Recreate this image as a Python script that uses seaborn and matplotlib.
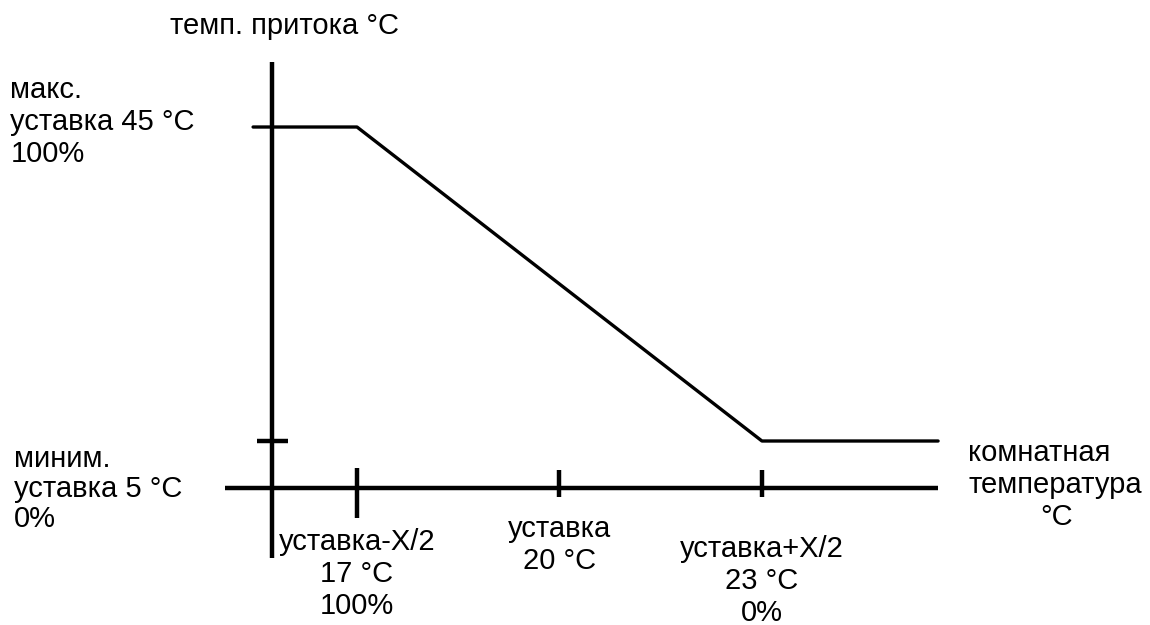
import matplotlib
matplotlib.use("Agg")
import matplotlib.pyplot as plt
import seaborn as sns
import pandas as pd

# room temperature setpoints on the horizontal axis (°C)
room_temps = [17, 20, 23]
room_labels = ["уставка-X/2\n17 \u00b0C\n100%", "уставка\n20 \u00b0C", "уставка+X/2\n23 \u00b0C\n0%"]

# supply temperature limits on the vertical axis (°C)
supply_max = 45
supply_min = 5
supply_labels = ["макс.\nуставка 45 \u00b0C\n100%", "миним.\nуставка 5 \u00b0C\n0%"]

# schematic extents of the drawing (room °C / supply °C)
x_axis_left, x_axis_right = 15.04, 25.61
y_axis_x = 15.74
y_axis_bottom, y_axis_top = -9.9, 53.28
x_axis_y = -1.0

# characteristic: flat at max, falls linearly, flat at min
curve = pd.DataFrame({
    "room": [15.46, room_temps[0], room_temps[2], x_axis_right],
    "supply": [supply_max, supply_max, supply_min, supply_min],
})

sns.set_style("white")
plt.rcParams['font.family'] = ['Liberation Sans', 'DejaVu Sans']
plt.rcParams['text.color'] = 'black'

fig = plt.figure(figsize=(11.5, 6.25), dpi=100)
ax = fig.add_axes([0, 0, 1, 1])
ax.set_xlim(11.71, 28.75)
ax.set_ylim(-18.44, 61.18)
ax.axis('off')

axis_kw = dict(color='black', lw=3.2, solid_capstyle='butt')
# axes
ax.plot([y_axis_x, y_axis_x], [y_axis_bottom, y_axis_top], **axis_kw)
ax.plot([x_axis_left, x_axis_right], [x_axis_y, x_axis_y], **axis_kw)

# ticks on the room temperature axis
for t in room_temps:
    lo = -4.81 if t == room_temps[0] else -2.13
    hi = 1.56 if t == room_temps[0] else 1.31
    ax.plot([t, t], [lo, hi], **axis_kw)

# min tick on supply axis
ax.plot([15.52, 15.98], [supply_min, supply_min], **axis_kw)

sns.lineplot(data=curve, x="room", y="supply", ax=ax, color='black', lw=2.4,
             sort=False, estimator=None)
ax.set_xlabel('')
ax.set_ylabel('')

fs = 21
ls = 1.18
tx = ax.get_xaxis_transform()
tops = [0.155, 0.176, 0.144]
for t, lab, top in zip(room_temps, room_labels, tops):
    ax.text(t, top, lab, transform=tx, ha='center', va='top', fontsize=fs,
            multialignment='center', linespacing=ls)

ax.text(0.009, 0.878, supply_labels[0], transform=ax.transAxes, ha='left',
        va='top', fontsize=fs, linespacing=ls)
ax.text(0.012, 0.288, supply_labels[1], transform=ax.transAxes, ha='left',
        va='top', fontsize=fs, linespacing=1.1)

ax.text(0.247, 0.981, "темп. притока \u00b0C", transform=ax.transAxes,
        ha='center', va='top', fontsize=fs)
ax.text(0.842, 0.298, "комнатная\nтемпература", transform=ax.transAxes,
        ha='left', va='top', fontsize=fs, linespacing=ls)
ax.text(0.919, 0.195, "\u00b0C", transform=ax.transAxes,
        ha='center', va='top', fontsize=fs)

fig.savefig('out.png', dpi=100, facecolor='white')
